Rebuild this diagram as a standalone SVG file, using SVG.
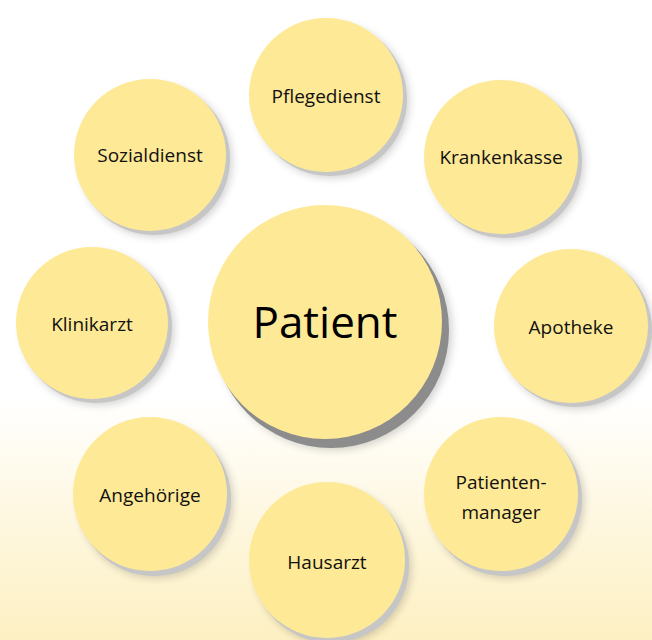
<svg xmlns="http://www.w3.org/2000/svg" width="652" height="640" viewBox="0 0 652 640">
<defs>
<linearGradient id="bg" x1="0" y1="0" x2="0" y2="1">
<stop offset="0" stop-color="#ffffff"/>
<stop offset="0.62" stop-color="#ffffff"/>
<stop offset="1" stop-color="#fdf0c2"/>
</linearGradient>
<filter id="soft" x="-30%" y="-30%" width="160%" height="160%">
<feGaussianBlur stdDeviation="4"/>
</filter>
<style>
.c{fill:#fee996;}
.sh{fill:#c6c6c6;}
.shd{fill:#8c8c8c;}
.halo{fill:#000;opacity:0.18;filter:url(#soft);}
.t{font-family:"Open Sans","Liberation Sans",sans-serif;font-size:19px;fill:#111;text-anchor:middle;}
.big{font-family:"Open Sans","Liberation Sans",sans-serif;font-size:44px;fill:#000;text-anchor:middle;}
</style>
</defs>
<rect width="652" height="640" fill="url(#bg)"/>
<g id="connectors"></g>
<g id="pflegedienst">
<circle class="halo" cx="332" cy="101" r="77"/>
<circle class="sh" cx="330" cy="99" r="77"/>
<circle class="c" cx="326" cy="95" r="77"/>
<text class="t" x="326" y="103">Pflegedienst</text>
</g>
<g id="sozialdienst">
<circle class="halo" cx="156" cy="161" r="76"/>
<circle class="sh" cx="154" cy="159" r="76"/>
<circle class="c" cx="150" cy="155" r="76"/>
<text class="t" x="150" y="162">Sozialdienst</text>
</g>
<g id="krankenkasse">
<circle class="halo" cx="507" cy="163" r="77"/>
<circle class="sh" cx="505" cy="161" r="77"/>
<circle class="c" cx="501" cy="157" r="77"/>
<text class="t" x="501" y="164">Krankenkasse</text>
</g>
<g id="klinikarzt">
<circle class="halo" cx="98" cy="329" r="76"/>
<circle class="sh" cx="96" cy="327" r="76"/>
<circle class="c" cx="92" cy="323" r="76"/>
<text class="t" x="92" y="331">Klinikarzt</text>
</g>
<g id="patient">
<circle class="halo" cx="334" cy="332" r="118"/>
<circle class="shd" cx="331" cy="330" r="118"/>
<circle class="c" cx="325" cy="322" r="117"/>
<text class="big" x="325" y="338">Patient</text>
</g>
<g id="apotheke">
<circle class="halo" cx="577" cy="332" r="77"/>
<circle class="sh" cx="575" cy="330" r="77"/>
<circle class="c" cx="571" cy="326" r="77"/>
<text class="t" x="571" y="334">Apotheke</text>
</g>
<g id="angehoerige">
<circle class="halo" cx="156" cy="501" r="77"/>
<circle class="sh" cx="154" cy="499" r="77"/>
<circle class="c" cx="150" cy="494" r="77"/>
<text class="t" x="150" y="502">Angehörige</text>
</g>
<g id="patientenmanager">
<circle class="halo" cx="507" cy="501" r="77"/>
<circle class="sh" cx="505" cy="499" r="77"/>
<circle class="c" cx="501" cy="494" r="77"/>
<text class="t" x="501" y="489">Patienten-</text>
<text class="t" x="501" y="519">manager</text>
</g>
<g id="hausarzt">
<circle class="halo" cx="333" cy="567" r="78"/>
<circle class="sh" cx="331" cy="565" r="78"/>
<circle class="c" cx="327" cy="560" r="78"/>
<text class="t" x="327" y="569">Hausarzt</text>
</g>
</svg>
